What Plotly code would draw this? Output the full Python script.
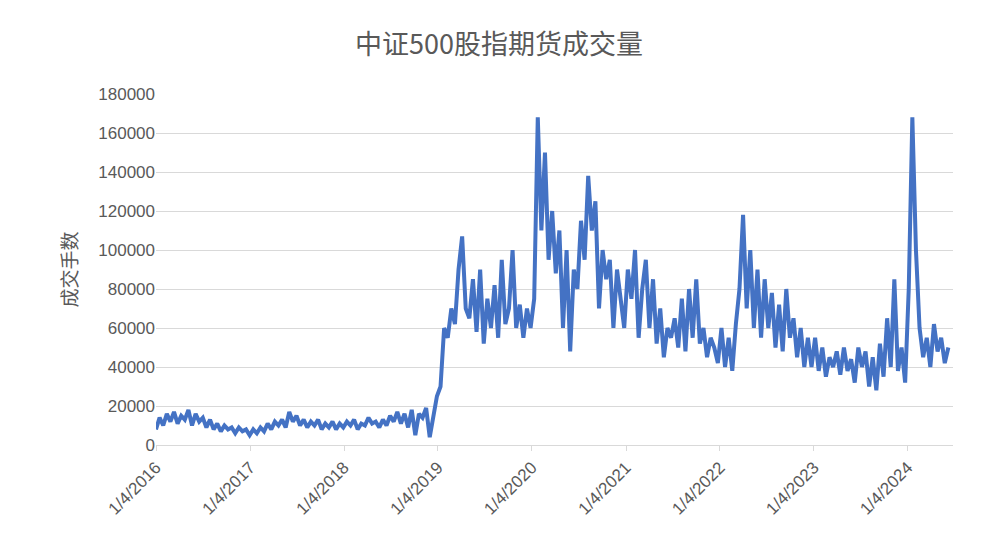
import plotly.graph_objects as go
import pandas as pd

# 中证500股指期货成交量, sampled roughly every two weeks
v2016 = [8000, 14000, 10000, 16000, 12000, 17000, 11000, 15000, 13000, 18000, 10000, 16000, 12000,
         14000, 9000, 13000, 8000, 11000, 7000, 10000, 8000, 9000, 6000, 9000, 7000, 8000]
v2017 = [5000, 8000, 6000, 9000, 7000, 11000, 8000, 12000, 10000, 13000, 9000, 17000, 12000,
         15000, 10000, 13000, 9000, 12000, 10000, 13000, 8000, 11000, 9000, 12000, 8000, 11000]
v2018 = [9000, 12000, 10000, 13000, 8000, 11000, 10000, 14000, 11000, 12000, 9000, 13000, 10000,
         15000, 12000, 17000, 11000, 16000, 9000, 18000, 5000, 16000, 14000, 19000, 4000, 15000]
v2019 = [25000, 30000, 60000, 55000, 70000, 62000, 90000, 107000, 70000, 65000, 85000, 58000, 90000,
         52000, 75000, 60000, 82000, 55000, 95000, 62000, 70000, 100000, 60000, 72000, 55000, 70000]
v2020 = [60000, 75000, 168000, 110000, 150000, 95000, 120000, 88000, 110000, 60000, 100000, 48000, 90000,
         80000, 115000, 95000, 138000, 110000, 125000, 70000, 100000, 85000, 95000, 60000, 90000, 75000]
v2021 = [60000, 90000, 75000, 100000, 55000, 80000, 95000, 60000, 85000, 52000, 70000, 45000, 60000,
         55000, 65000, 50000, 75000, 48000, 80000, 55000, 85000, 52000, 60000, 45000, 55000, 50000]
v2022 = [42000, 60000, 40000, 55000, 38000, 62000, 80000, 118000, 70000, 100000, 60000, 90000, 55000,
         85000, 60000, 78000, 50000, 72000, 48000, 80000, 55000, 65000, 45000, 60000, 40000, 55000]
v2023 = [40000, 55000, 38000, 50000, 35000, 45000, 40000, 48000, 36000, 50000, 38000, 44000, 32000,
         50000, 40000, 48000, 30000, 45000, 28000, 52000, 35000, 65000, 40000, 85000, 38000, 50000]
v2024 = [32000, 80000, 168000, 100000, 60000, 45000, 55000, 40000, 62000, 48000, 55000, 42000, 50000]

values = v2016 + v2017 + v2018 + v2019 + v2020 + v2021 + v2022 + v2023 + v2024
dates = pd.date_range("2016-01-04", periods=len(values), freq="14D")
tick_dates = [f"{y}-01-04" for y in range(2016, 2025)]
tick_labels = [f"1/4/{y}" for y in range(2016, 2025)]

fig = go.Figure(go.Scatter(x=dates, y=values, mode="lines",
                           line=dict(color="#4472C4", width=4)))
fig.update_layout(
    width=982, height=536, plot_bgcolor="white", paper_bgcolor="white",
    font=dict(family="Liberation Sans, Noto Sans CJK SC", color="#595959", size=17),
    title=dict(text="中证500股指期货成交量", x=0.5, y=0.95,
               font=dict(family="Noto Sans CJK SC", size=27, color="#595959")),
    margin=dict(l=148, r=37, t=86, b=99), showlegend=False,
)
fig.update_xaxes(tickvals=tick_dates, ticktext=tick_labels, tickangle=-45,
                 range=["2016-01-04", "2024-06-28"], showgrid=False,
                 showline=True, linecolor="#d9d9d9", ticks="outside", tickcolor="#d9d9d9")
fig.update_yaxes(range=[0, 180000], dtick=20000, gridcolor="#d9d9d9", tickformat="d",
                 title=dict(text="成交手数", font=dict(family="Noto Sans CJK SC", size=19)),
                 zeroline=False)
fig.write_html("out.html")
